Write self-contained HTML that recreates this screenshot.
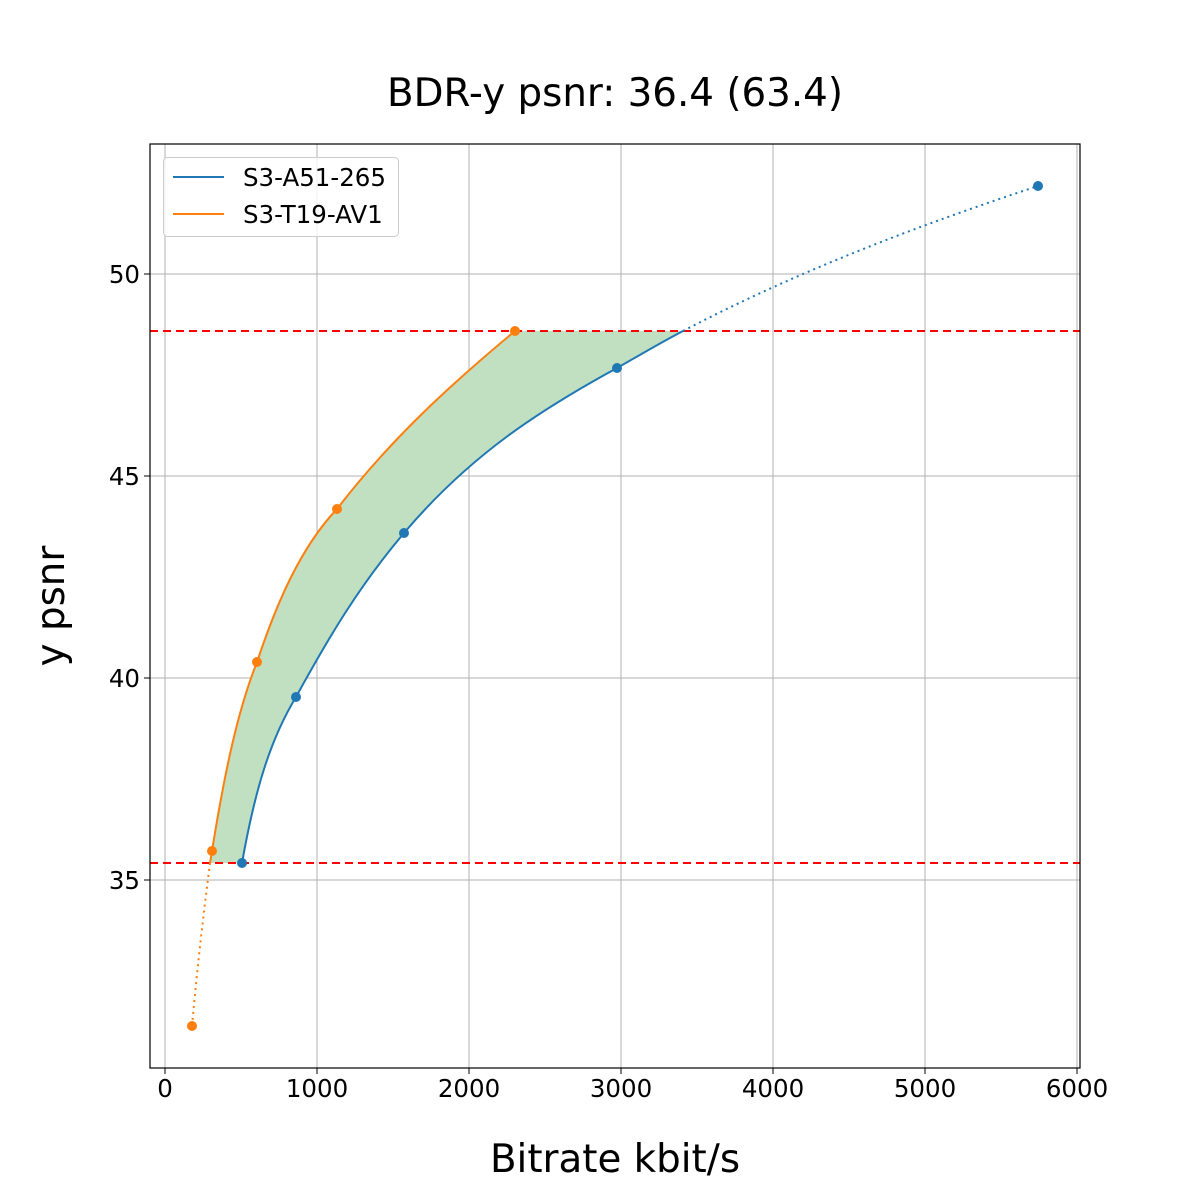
<!DOCTYPE html>
<html><head><meta charset="utf-8"><style>
html,body{margin:0;padding:0;background:#fff;}
svg{display:block;font-family:"DejaVu Sans","Liberation Sans",sans-serif;}
</style></head><body>
<svg width="1200" height="1200" viewBox="0 0 1200 1200" xmlns="http://www.w3.org/2000/svg">
<rect width="1200" height="1200" fill="#fff"/>
<g stroke="#b0b0b0" stroke-width="1">
<line x1="165" y1="144" x2="165" y2="1068"/>
<line x1="317" y1="144" x2="317" y2="1068"/>
<line x1="469" y1="144" x2="469" y2="1068"/>
<line x1="621" y1="144" x2="621" y2="1068"/>
<line x1="773" y1="144" x2="773" y2="1068"/>
<line x1="925" y1="144" x2="925" y2="1068"/>
<line x1="1077" y1="144" x2="1077" y2="1068"/>
<line x1="150" y1="274" x2="1080" y2="274"/>
<line x1="150" y1="476" x2="1080" y2="476"/>
<line x1="150" y1="678" x2="1080" y2="678"/>
<line x1="150" y1="880" x2="1080" y2="880"/>
</g>
<path d="M210,863 L212,851 C225,770 238,710 257,662 C276,605 300,548 337,509 C390,440 450,385 515,331 L683,331 C660,343 640,355 617,368 C540,410 470,455 404,533 C360,585 330,635 296,697 C270,740 255,790 242,863 Z" fill="#c1dfc1" stroke="none"/>
<g stroke="#ff0000" stroke-width="2" stroke-dasharray="8,5">
<line x1="150" y1="331" x2="1080" y2="331"/>
<line x1="150" y1="863" x2="1080" y2="863"/>
</g>
<path d="M242,863 C255,790 270,740 296,697 C330,635 360,585 404,533 C470,455 540,410 617,368 C640,355 660,343 683,331" fill="none" stroke="#1f77b4" stroke-width="2"/>
<path d="M683,331 C800,270 920,225 1038,186" fill="none" stroke="#1f77b4" stroke-width="2" stroke-dasharray="2,4"/>
<path d="M210,863 L212,851 C225,770 238,710 257,662 C276,605 300,548 337,509 C390,440 450,385 515,331" fill="none" stroke="#ff7f0e" stroke-width="2"/>
<path d="M192,1026 C198,960 204,910 210,863" fill="none" stroke="#ff7f0e" stroke-width="2" stroke-dasharray="2,4"/>
<g fill="#1f77b4">
<circle cx="242" cy="863" r="5"/><circle cx="296" cy="697" r="5"/><circle cx="404" cy="533" r="5"/><circle cx="617" cy="368" r="5"/><circle cx="1038" cy="186" r="5"/>
</g>
<g fill="#ff7f0e">
<circle cx="192" cy="1026" r="5"/><circle cx="212" cy="851" r="5"/><circle cx="257" cy="662" r="5"/><circle cx="337" cy="509" r="5"/><circle cx="515" cy="331" r="5"/>
</g>
<rect x="150" y="144" width="930" height="924" fill="none" stroke="#000" stroke-width="1.2"/>
<g stroke="#000" stroke-width="1">
<line x1="165" y1="1068" x2="165" y2="1074"/><line x1="317" y1="1068" x2="317" y2="1074"/><line x1="469" y1="1068" x2="469" y2="1074"/><line x1="621" y1="1068" x2="621" y2="1074"/><line x1="773" y1="1068" x2="773" y2="1074"/><line x1="925" y1="1068" x2="925" y2="1074"/><line x1="1077" y1="1068" x2="1077" y2="1074"/>
<line x1="144" y1="274" x2="150" y2="274"/><line x1="144" y1="476" x2="150" y2="476"/><line x1="144" y1="678" x2="150" y2="678"/><line x1="144" y1="880" x2="150" y2="880"/>
</g>
<g font-size="24.5" fill="#000" text-anchor="middle">
<text x="165" y="1097">0</text><text x="317" y="1097">1000</text><text x="469" y="1097">2000</text><text x="621" y="1097">3000</text><text x="773" y="1097">4000</text><text x="925" y="1097">5000</text><text x="1077" y="1097">6000</text>
</g>
<g font-size="24.5" fill="#000" text-anchor="end">
<text x="140" y="283">50</text><text x="140" y="485">45</text><text x="140" y="687">40</text><text x="140" y="889">35</text>
</g>
<text x="615" y="106" font-size="38.8" text-anchor="middle">BDR-y psnr: 36.4 (63.4)</text>
<text x="615" y="1172" font-size="38.8" text-anchor="middle">Bitrate kbit/s</text>
<text transform="translate(64,606) rotate(-90)" font-size="38.8" text-anchor="middle">y psnr</text>
<rect x="163.5" y="157.5" width="235" height="79" rx="4" fill="#fff" fill-opacity="0.8" stroke="#ccc"/>
<line x1="173" y1="177" x2="224" y2="177" stroke="#1f77b4" stroke-width="2"/>
<line x1="173" y1="214" x2="224" y2="214" stroke="#ff7f0e" stroke-width="2"/>
<text x="243" y="186" font-size="24.5">S3-A51-265</text>
<text x="243" y="223" font-size="24.5">S3-T19-AV1</text>
</svg>
</body></html>
